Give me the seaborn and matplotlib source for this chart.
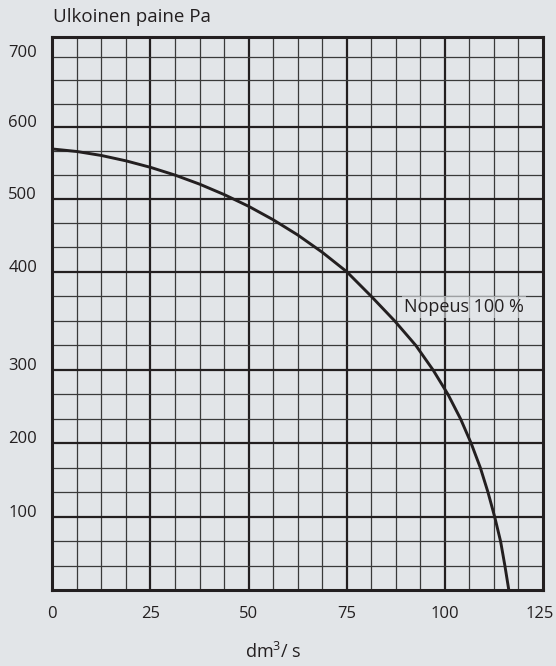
import numpy as np
import matplotlib
matplotlib.use("Agg")
import matplotlib.pyplot as plt
import matplotlib.transforms as mtransforms
import seaborn as sns

# curve: air flow (dm3/s) vs external pressure (Pa)
flow = [0, 6.25, 12.5, 18.75, 25, 31.25, 37.5, 43.75, 50, 56.25, 62.5, 68.75,
        75, 81.24, 87.2, 92.6, 97.0, 100.8, 104.0, 106.7, 109.05, 111.0,
        112.7, 114.2, 115.3, 116.3]
pressure = [569.2, 565.7, 560.2, 552.8, 543.8, 533.1, 520.6, 506.2, 490.0,
            471.5, 450.6, 426.8, 400, 375, 350, 325, 300, 266.7, 233.3, 200,
            166.7, 133.3, 100, 66.7, 33.3, 0]

x_ticks = [0, 25, 50, 75, 100, 125]
y_ticks = [100, 200, 300, 400, 500, 600, 700]
curve_label = "Nopeus 100 %"

# the printed pressure axis is not evenly spaced: map Pa -> drawn height
pa_knots = [0, 100, 200, 300, 400, 500, 600, 700, 733.3]
pos_knots = [0, 73.3, 147, 220.3, 318.6, 391.3, 463.6, 533, 553]


def fwd(v):
    return np.interp(v, pa_knots, pos_knots)


def inv(v):
    return np.interp(v, pos_knots, pa_knots)


bg = "#e2e5e8"
ink = "#231f20"

sns.set_theme(style="white")
plt.rcParams["font.family"] = ["Open Sans", "DejaVu Sans"]
plt.rcParams["mathtext.fontset"] = "custom"
plt.rcParams["mathtext.rm"] = "Open Sans"

fig = plt.figure(figsize=(5.56, 6.66), dpi=100, facecolor=bg)
ax = fig.add_axes([52.3 / 556, 1 - 590.3 / 666, (543 - 52.3) / 556, (590.3 - 37.3) / 666])
ax.set_facecolor(bg)
ax.set_yscale("function", functions=(fwd, inv))
ax.set_xlim(0, 125)
ax.set_ylim(0, 733.3)

# grid
for xv in np.arange(6.25, 125, 6.25):
    major = abs(xv % 25) < 1e-9
    ax.axvline(xv, color=ink if major else "#3a3a3a",
               lw=1.6 if major else 0.9, zorder=1)
thin_y = [33.3, 66.7, 133.3, 166.7, 233.3, 266.7, 325, 350, 375, 433.3, 466.7,
          533.3, 566.7, 633.3, 666.7, 700]
for yv in thin_y:
    ax.axhline(yv, color="#3a3a3a", lw=0.9, zorder=1)
for yv in y_ticks[:-1]:
    ax.axhline(yv, color=ink, lw=1.6, zorder=1)

sns.lineplot(x=flow, y=pressure, ax=ax, color=ink, linewidth=2.1, zorder=3)

ax.text(89.6, 364, curve_label, fontsize=13, color=ink, ha="left", va="center",
        zorder=4, bbox=dict(boxstyle="square,pad=0.1", fc=bg, ec="none", alpha=0.6))

for s in ax.spines.values():
    s.set_visible(True)
    s.set_color(ink)
    s.set_linewidth(2.2)
    s.set_zorder(5)

ax.set_xticks(x_ticks)
ax.set_xticklabels([str(v) for v in x_ticks])
ax.set_yticks(y_ticks)
ax.set_yticklabels([str(v) for v in y_ticks])
ax.minorticks_off()
ax.tick_params(length=0, labelsize=12, colors=ink)
ax.tick_params(axis="x", pad=11)
ax.tick_params(axis="y", pad=11)
shift = mtransforms.ScaledTranslation(0, 0.06, fig.dpi_scale_trans)
for lab in ax.get_yticklabels():
    lab.set_transform(lab.get_transform() + shift)
xlabs = ax.get_xticklabels()
left = mtransforms.ScaledTranslation(-0.03, 0, fig.dpi_scale_trans)
xlabs[-1].set_transform(xlabs[-1].get_transform() + left)
ax.set_xlabel("")
ax.set_ylabel("")

fig.text(53 / 556, 1 - 21.7 / 666, "Ulkoinen paine Pa", fontsize=13.5,
         color=ink, ha="left", va="baseline")
fig.text(273.5 / 556, 1 - 658.3 / 666, "dm$^3$/ s", fontsize=13,
         color=ink, ha="center", va="baseline")

fig.savefig("out.png", dpi=100, facecolor=bg)
